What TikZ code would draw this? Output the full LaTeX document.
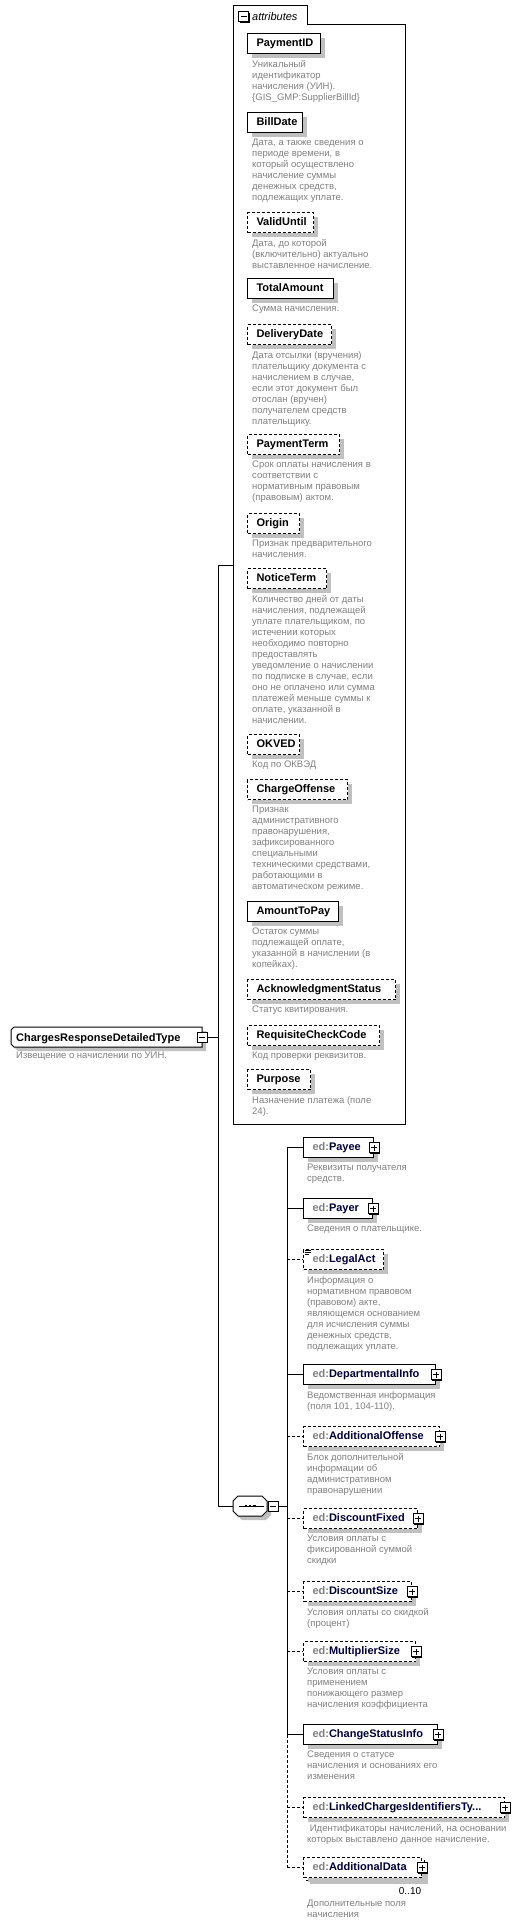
\documentclass[tikz,border=0pt]{standalone}
\usepackage{fontspec}
\setmainfont{Liberation Sans}
\usetikzlibrary{shadows,calc}
\definecolor{descgray}{RGB}{128,128,128}
\definecolor{shadowgray}{RGB}{192,192,192}
\definecolor{namecol}{RGB}{0,0,48}
\definecolor{pfxgray}{RGB}{128,128,128}
\newcommand\xnamefont{\fontsize{11}{13}\selectfont\bfseries}
\newcommand\xdescfont{\fontsize{9.5}{11}\selectfont}
\newcommand\pfx[1]{\textcolor{pfxgray}{ed:}\textcolor{namecol}{#1}}
\tikzset{
  sh/.style={drop shadow={shadow xshift=4pt,shadow yshift=-4pt,fill=shadowgray,opacity=1}},
  elbox/.style={draw=black,fill=white,line width=1pt,minimum height=20pt,
    inner xsep=9pt,inner ysep=0pt,anchor=north west,font=\xnamefont,
    text height=8pt,text depth=2pt,align=left,sh,text width=#1},
  optb/.style={dash pattern=on 3pt off 2pt},
  desc/.style={anchor=north west,inner sep=0pt,font=\xdescfont,text=descgray,align=left},
  ctl/.style={draw=black,fill=white,line width=1pt,minimum size=10pt,inner sep=0pt,
     drop shadow={shadow xshift=1pt,shadow yshift=-1pt,fill=black,opacity=1}},
  plusbox/.style={ctl,path picture={
     \draw[line width=1pt] ([xshift=2pt]path picture bounding box.west) -- ([xshift=-2pt]path picture bounding box.east);
     \draw[line width=1pt] ([yshift=-2pt]path picture bounding box.north) -- ([yshift=2pt]path picture bounding box.south);}},
  minusbox/.style={ctl,path picture={
     \draw[line width=1pt] ([xshift=2pt]path picture bounding box.west) -- ([xshift=-2pt]path picture bounding box.east);}},
  conn/.style={line width=1pt},
  optconn/.style={line width=1pt,dash pattern=on 3pt off 2pt},
}
\begin{document}
\begin{tikzpicture}[x=1pt,y=-1pt]
\useasboundingbox[fill=white] (0,0) rectangle (518,1928);
% ---------- attributes frame ----------
\draw[line width=1pt] (233,1124) -- (233,5) -- (307,5) -- (307,24) -- (405,24) -- (405,1124) -- cycle;
\node[inner sep=0pt,minimum width=172pt,minimum height=1100pt,anchor=north west] (attrs) at (233,24) {};
\node[minusbox] (tabm) at (243.5,16.5) {};
\node[anchor=base west,inner sep=0pt,font=\fontsize{11}{13}\selectfont\itshape] (tabt) at (252,20) {attributes};

\node[elbox=55pt] (pid) at (247,33) {PaymentID};
\node[desc] (pidd) at (252,60) {Уникальный\\идентификатор\\начисления (УИН).\\\{GIS\_GMP:SupplierBillId\}};

\node[elbox=37pt] (bd) at (247,112) {BillDate};
\node[desc] (bdd) at (252,139) {Дата, а также сведения о\\периоде времени, в\\который осуществлено\\начисление суммы\\денежных средств,\\подлежащих уплате.};

\node[elbox=48pt,optb] (vu) at (247,212) {ValidUntil};
\node[desc] (vud) at (252,239) {Дата, до которой\\(включительно) актуально\\выставленное начисление.};

\node[elbox=68pt] (ta) at (247,278) {TotalAmount};
\node[desc] (tad) at (252,305) {Сумма начисления.};

\node[elbox=66pt,optb] (dd) at (247,324) {DeliveryDate};
\node[desc] (ddd) at (252,351) {Дата отсылки (вручения)\\плательщику документа с\\начислением в случае,\\если этот документ был\\отослан (вручен)\\получателем средств\\плательщику.};

\node[elbox=74pt,optb] (pt) at (247,434) {PaymentTerm};
\node[desc] (ptd) at (252,461) {Срок оплаты начисления в\\соответствии с\\нормативным правовым\\(правовым) актом.};

\node[elbox=34pt,optb] (org) at (247,513) {Origin};
\node[desc] (orgd) at (252,540) {Признак предварительного\\начисления.};

\node[elbox=61pt,optb] (nt) at (247,568) {NoticeTerm};
\node[desc] (ntd) at (252,595) {Количество дней от даты\\начисления, подлежащей\\уплате плательщиком, по\\истечении которых\\необходимо повторно\\предоставлять\\уведомление о начислении\\по подписке в случае, если\\оно не оплачено или сумма\\платежей меньше суммы к\\оплате, указанной в\\начислении.};

\node[elbox=34pt,optb] (ok) at (247,734) {OKVED};
\node[desc] (okd) at (252,761) {Код по ОКВЭД};

\node[elbox=82pt,optb] (co) at (247,779) {ChargeOffense};
\node[desc] (cod) at (252,806) {Признак\\административного\\правонарушения,\\зафиксированного\\специальными\\техническими средствами,\\работающими в\\автоматическом режиме.};

\node[elbox=73pt] (atp) at (247,901) {AmountToPay};
\node[desc] (atpd) at (252,928) {Остаток суммы\\подлежащей оплате,\\указанной в начислении (в\\копейках).};

\node[elbox=130pt,optb] (as) at (247,979) {AcknowledgmentStatus};
\node[desc] (asd) at (252,1006) {Статус квитирования.};

\node[elbox=114pt,optb] (rcc) at (247,1025) {RequisiteCheckCode};
\node[desc] (rccd) at (252,1052) {Код проверки реквизитов.};

\node[elbox=45pt,optb] (pur) at (247,1069) {Purpose};
\node[desc] (purd) at (252,1096) {Назначение платежа (поле\\24).};

% ---------- root ----------
\node[inner sep=0pt,minimum width=191pt,minimum height=20pt,anchor=north west] (root) at (11,1027) {};
\fill[shadowgray,shift={(4,4)}] (14,1027) -- (202,1027) -- (202,1047) -- (14,1047) -- (11,1044) -- (11,1030) -- cycle;
\draw[fill=white,line width=1pt] (14,1027) -- (202,1027) -- (202,1047) -- (14,1047) -- (11,1044) -- (11,1030) -- cycle;
\node[anchor=base west,inner sep=0pt,font=\xnamefont] (roott) at (16,1041.5) {ChargesResponseDetailedType};
\node[minusbox] (rootm) at (202,1037) {};
\node[desc] (rootd) at (16,1052) {Извещение о начислении по УИН.};

% ---------- sequence ----------
\node[inner sep=0pt,minimum width=34pt,minimum height=20pt] (seq) at (250,1506) {};
\fill[shadowgray,shift={(4,4)}] (238,1496) -- (262,1496) -- (267,1501) -- (267,1511) -- (262,1516) -- (238,1516) -- (233,1511) -- (233,1501) -- cycle;
\draw[fill=white,line width=1pt] (238,1496) -- (262,1496) -- (267,1501) -- (267,1511) -- (262,1516) -- (238,1516) -- (233,1511) -- (233,1501) -- cycle;
\draw[line width=1pt] (239,1506) -- (264,1506);
\fill (244.5,1504.7) rectangle +(2.6,2.6);
\fill (248.7,1504.7) rectangle +(2.6,2.6);
\fill (252.9,1504.7) rectangle +(2.6,2.6);
\node[minusbox] (seqm) at (273,1506) {};

% ---------- children ----------
\node[elbox=52pt] (payee) at (303,1137) {\pfx{Payee}};
\node[plusbox] (payeep) at (payee.east) {};
\node[desc] (payeed) at (307,1164) {Реквизиты получателя\\средств.};

\node[elbox=51pt] (payer) at (303,1198) {\pfx{Payer}};
\node[plusbox] (payerp) at (payer.east) {};
\node[desc] (payerd) at (307,1225) {Сведения о плательщике.};

\node[elbox=62pt,optb] (legal) at (303,1249) {\pfx{LegalAct}};
\draw[line width=0.7pt] (305,1250.5) -- (311,1250.5) (305,1252.5) -- (311,1252.5) (305,1254.5) -- (309,1254.5);
\node[desc] (legald) at (307,1276) {Информация о\\нормативном правовом\\(правовом) акте,\\являющемся основанием\\для исчисления суммы\\денежных средств,\\подлежащих уплате.};

\node[elbox=114pt] (dept) at (303,1364) {\pfx{DepartmentalInfo}};
\node[plusbox] (deptp) at (dept.east) {};
\node[desc] (deptd) at (307,1391) {Ведомственная информация\\(поля 101, 104-110).};

\node[elbox=118pt,optb] (addoff) at (303,1426) {\pfx{AdditionalOffense}};
\node[plusbox] (addoffp) at (addoff.east) {};
\node[desc] (addoffd) at (307,1453) {Блок дополнительной\\информации об\\административном\\правонарушении};

\node[elbox=96pt,optb] (dfix) at (303,1508) {\pfx{DiscountFixed}};
\node[plusbox] (dfixp) at (dfix.east) {};
\node[desc] (dfixd) at (307,1535) {Условия оплаты с\\фиксированной суммой\\скидки};

\node[elbox=90pt,optb] (dsize) at (303,1581) {\pfx{DiscountSize}};
\node[plusbox] (dsizep) at (dsize.east) {};
\node[desc] (dsized) at (307,1608) {Условия оплаты со скидкой\\(процент)};

\node[elbox=94pt,optb] (mult) at (303,1641) {\pfx{MultiplierSize}};
\node[plusbox] (multp) at (mult.east) {};
\node[desc] (multd) at (307,1668) {Условия оплаты с\\применением\\понижающего размер\\начисления коэффициента};

\node[elbox=116pt] (chg) at (303,1724) {\pfx{ChangeStatusInfo}};
\node[plusbox] (chgp) at (chg.east) {};
\node[desc] (chgd) at (307,1751) {Сведения о статусе\\начисления и основаниях его\\изменения};

\node[elbox=183pt,optb] (linked) at (303,1797) {\pfx{LinkedChargesIdentifiersTy...}};
\node[plusbox] (linkedp) at (linked.east) {};
\node[desc] (linkedd) at (307,1824) {\hspace*{2.7pt}Идентификаторы начислений, на основании\\которых выставлено данное начисление.};

\fill[shadowgray] (310,1864) rectangle (428,1884);
\draw[line width=1pt,fill=white,optb] (306,1860) rectangle (424,1880);
\node[elbox=100pt,optb,drop shadow={opacity=0}] (addd) at (303,1857) {\pfx{AdditionalData}};
\node[plusbox] (adddp) at (addd.east) {};
\node[inner sep=0pt,font=\fontsize{10}{12}\selectfont] (occ) at (410,1891) {0..10};
\node[desc] (adddd) at (307,1900) {Дополнительные поля\\начисления};

% ---------- connectors ----------
\coordinate (vx) at (218,0);
\coordinate (attrin) at (233,565);
\coordinate (cx) at (287,0);
\draw[conn] (rootm.east) -- (rootm.east -| vx);
\draw[conn] (attrin) -- (attrin -| vx) -- (seq.west -| vx) -- (seq.west);
\draw[conn] (seqm.east) -- (seqm.east -| cx);
\draw[conn] (payee.west -| cx) -- (chg.west -| cx);
\draw[optconn] (chg.west -| cx) -- (addd.west -| cx);
\draw[conn] (payee.west -| cx) -- (payee.west);
\draw[conn] (payer.west -| cx) -- (payer.west);
\draw[optconn] (legal.west -| cx) -- (legal.west);
\draw[conn] (dept.west -| cx) -- (dept.west);
\draw[optconn] (addoff.west -| cx) -- (addoff.west);
\draw[optconn] (dfix.west -| cx) -- (dfix.west);
\draw[optconn] (dsize.west -| cx) -- (dsize.west);
\draw[optconn] (mult.west -| cx) -- (mult.west);
\draw[conn] (chg.west -| cx) -- (chg.west);
\draw[optconn] (linked.west -| cx) -- (linked.west);
\draw[optconn] (addd.west -| cx) -- (addd.west);
\end{tikzpicture}
\end{document}
